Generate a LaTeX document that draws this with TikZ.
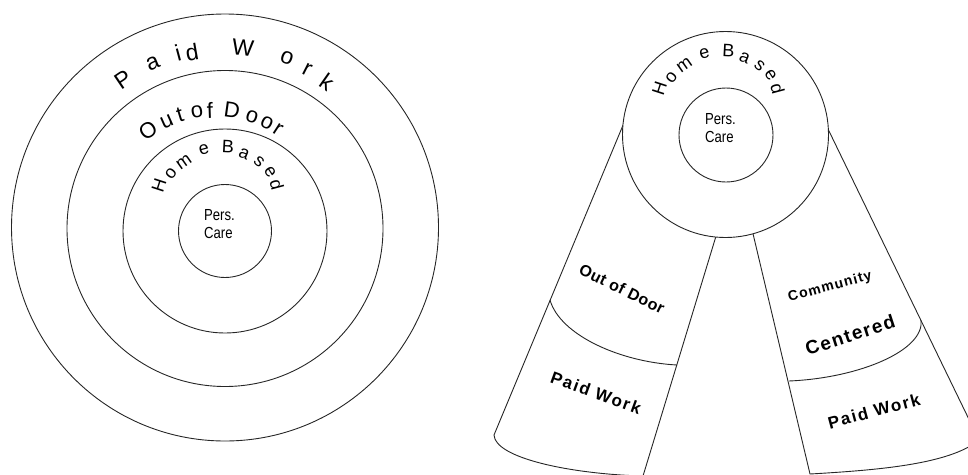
\documentclass[tikz,border=0pt]{standalone}
\usepackage{fontspec}
\setmainfont{Liberation Sans}
\newfontfamily\narrowfont[FakeStretch=0.82]{Liberation Sans}
\tikzset{
  ln/.style={line width=0.9pt, draw=black!85},
  pwl/.style={inner sep=0pt, font=\fontsize{23}{23}\selectfont},
  odl/.style={inner sep=0pt, font=\fontsize{22}{22}\selectfont},
  hbl/.style={inner sep=0pt, font=\fontsize{18}{18}\selectfont},
  pc/.style={inner sep=0pt, align=left, font=\narrowfont\fontsize{16}{18}\selectfont},
  rib/.style={inner sep=0pt, font=\bfseries\fontsize{#1}{#1}\selectfont},
}
\newcommand\homebasedletters[1]{%
  \foreach \ch/\x/\y/\r [count=\i] in {H/159/185/72, o/171/174/52, m/184/162/35, e/204/150/15, B/228/147/-3, a/244/154/-22, s/259/162/-40, e/270/172/-57, d/277/185/-75}
    {\node[hbl, rotate=\r] (#1\i) at (\x,\y) {\ch};}%
}
\begin{document}
\begin{tikzpicture}[x=1pt, y=-1pt]
\useasboundingbox (0,0) rectangle (968,474);
\clip (0,0) rectangle (968,474);

% ---------- left: concentric circles ----------
\draw[ln] (225,227.5) circle[radius=213.5];
\draw[ln] (225,228.5) circle[radius=158];
\draw[ln] (225,231) circle[radius=102];
\draw[ln] (225,231) circle[radius=46.5];

\foreach \ch/\x/\y/\r [count=\i] in {P/123/80/34, a/153/63/23, i/178/53/15, d/192/52/10, W/243/48/-6, o/287/58/-20, r/307/70/-27, k/327/82/-35}
  {\node[pwl, rotate=\r] (pw\i) at (\x,\y) {\ch};}

\foreach \ch/\x/\y/\r [count=\i] in {O/148/130/34, u/167/122/24, t/180/115/17, o/197/112/9, f/210/110/2, D/232/110/-8, o/252/117/-18, o/267/123/-26, r/278/130/-33}
  {\node[odl, rotate=\r] (od\i) at (\x,\y) {\ch};}

\homebasedletters{hbL}

\node[pc] (pcL) at (219.5,224) {Pers.\\Care};

% ---------- right: ribbons ----------
\draw[ln, fill=white] (636,94) -- (494,435)
  .. controls (495,458) and (570,474) .. (643,476)
  -- (727,200) -- cycle;
\draw[ln] (550,300) .. controls (560,335) and (620,362) .. (677,365);

\draw[ln, fill=white] (745,200) -- (810,474)
  .. controls (880,470) and (950,464) .. (979,440)
  -- (811,94) -- cycle;
\draw[ln] (789,381) .. controls (860,378) and (925,350) .. (921,320);

% ---------- right: circles ----------
\draw[ln, fill=white] (725.5,134.5) circle[radius=103];
\draw[ln] (726,135) circle[radius=47];

\begin{scope}[shift={(500.5,-96.5)}]
  \homebasedletters{hbR}
\end{scope}

\node[pc] (pcR) at (720.5,128) {Pers.\\Care};

% ---------- ribbon labels ----------
\node[rib=16, rotate=-26] (odR) at (622,289) {\addfontfeature{LetterSpace=3}Out of Door};
\node[rib=17, rotate=-20] (pwR1) at (596,393) {\addfontfeature{LetterSpace=10}Paid Work};
\node[rib=14, rotate=15] (com) at (830,287) {\addfontfeature{LetterSpace=8}Community};
\node[rib=19, rotate=18] (cen) at (850,335) {\addfontfeature{LetterSpace=8}Centered};
\node[rib=17, rotate=15] (pwR2) at (874,411) {\addfontfeature{LetterSpace=10}Paid Work};
\end{tikzpicture}
\end{document}
